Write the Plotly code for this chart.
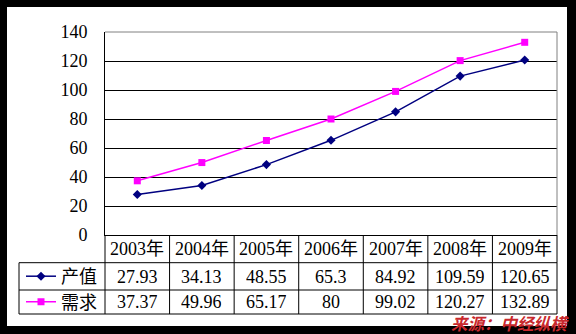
import plotly.graph_objects as go

years = ["2003年", "2004年", "2005年", "2006年", "2007年", "2008年", "2009年"]
output_vals = [27.93, 34.13, 48.55, 65.3, 84.92, 109.59, 120.65]
demand_vals = [37.37, 49.96, 65.17, 80, 99.02, 120.27, 132.89]
output_labels = ["27.93", "34.13", "48.55", "65.3", "84.92", "109.59", "120.65"]
demand_labels = ["37.37", "49.96", "65.17", "80", "99.02", "120.27", "132.89"]
series_names = ["产值", "需求"]
y_ticks = [0, 20, 40, 60, 80, 100, 120, 140]
source_text = "来源：中经纵横"

W, H = 576, 334
ML, MR, MT, MB = 105, 19, 32, 99
PW, PH = W - ML - MR, H - MT - MB


def px(x):
    return (x - ML) / PW


def py(y):
    return (H - MB - y) / PH


NUM_FONT = "Liberation Serif"
MIX_FONT = "Liberation Serif, Noto Sans CJK SC"
CJK_FONT = "Noto Sans CJK SC"

fig = go.Figure()
fig.add_trace(go.Scatter(
    x=years, y=output_vals, name=series_names[0], mode="lines+markers",
    line=dict(color="#000080", width=1.5),
    marker=dict(symbol="diamond", size=7, color="#000080"),
    legend="legend",
))
fig.add_trace(go.Scatter(
    x=years, y=demand_vals, name=series_names[1], mode="lines+markers",
    line=dict(color="#FF00FF", width=1.5),
    marker=dict(symbol="square", size=7, color="#FF00FF"),
    legend="legend2",
))

shapes = []
shapes.append(dict(type="rect", xref="paper", yref="paper", layer="below",
                   x0=px(7), x1=px(567), y0=py(326), y1=py(7),
                   fillcolor="white", line=dict(width=0)))
shapes.append(dict(type="line", xref="paper", yref="paper", x0=0, x1=1, y0=1, y1=1,
                   line=dict(color="#808080", width=1)))
shapes.append(dict(type="line", xref="paper", yref="paper", x0=1, x1=1, y0=0, y1=1,
                   line=dict(color="#808080", width=1)))
row_lines = [262.7, 290, 314]
for r in row_lines:
    shapes.append(dict(type="line", xref="paper", yref="paper",
                       x0=px(19), x1=1, y0=py(r), y1=py(r),
                       line=dict(color="black", width=1)))
shapes.append(dict(type="line", xref="paper", yref="paper",
                   x0=px(19), x1=px(19), y0=py(262.7), y1=py(314),
                   line=dict(color="black", width=1)))
n = len(years)
for i in range(n + 1):
    shapes.append(dict(type="line", xref="paper", yref="paper",
                       x0=i / n, x1=i / n, y0=0, y1=py(314),
                       line=dict(color="black", width=1)))

annotations = []
row_centers = [249, 276.5, 302]
for i, yr in enumerate(years):
    annotations.append(dict(x=yr, xref="x", y=py(row_centers[0]), yref="paper",
                            text=yr, showarrow=False, yanchor="middle", height=20,
                            font=dict(family=MIX_FONT, size=18, color="black")))
    annotations.append(dict(x=yr, xref="x", y=py(row_centers[1]), yref="paper",
                            text=output_labels[i], showarrow=False, yanchor="middle",
                            height=20,
                            font=dict(family=NUM_FONT, size=18, color="black")))
    annotations.append(dict(x=yr, xref="x", y=py(row_centers[2]), yref="paper",
                            text=demand_labels[i], showarrow=False, yanchor="middle",
                            height=20,
                            font=dict(family=NUM_FONT, size=18, color="black")))
annotations.append(dict(x=px(571), xref="paper", y=py(322.5), yref="paper",
                        text="<b><i>" + source_text + "</i></b>", showarrow=False,
                        xanchor="right", yanchor="middle", height=19,
                        font=dict(family=CJK_FONT, size=16.5, color="#c8282d")))

legend_common = dict(xref="paper", yref="paper", xanchor="left", yanchor="middle",
                     bgcolor="rgba(0,0,0,0)", borderwidth=0,
                     font=dict(family=CJK_FONT, size=18, color="black"))

fig.update_layout(
    width=W, height=H,
    margin=dict(l=ML, r=MR, t=MT, b=MB, pad=0),
    paper_bgcolor="black", plot_bgcolor="white",
    showlegend=True,
    legend=dict(x=px(21), y=py(row_centers[1]), **legend_common),
    legend2=dict(x=px(21), y=py(row_centers[2]), **legend_common),
    xaxis=dict(type="category", range=[-0.5, n - 0.5], showticklabels=False,
               showgrid=False, zeroline=False, showline=True, linecolor="black",
               linewidth=1, ticks=""),
    yaxis=dict(range=[0, 140], tickvals=y_ticks, showgrid=True, gridcolor="black",
               gridwidth=1, zeroline=False, showline=True, linecolor="black",
               linewidth=1, ticks="", ticklabelstandoff=13,
               tickfont=dict(family=NUM_FONT, size=18, color="black")),
    shapes=shapes,
    annotations=annotations,
)

fig.write_html("out.html")
